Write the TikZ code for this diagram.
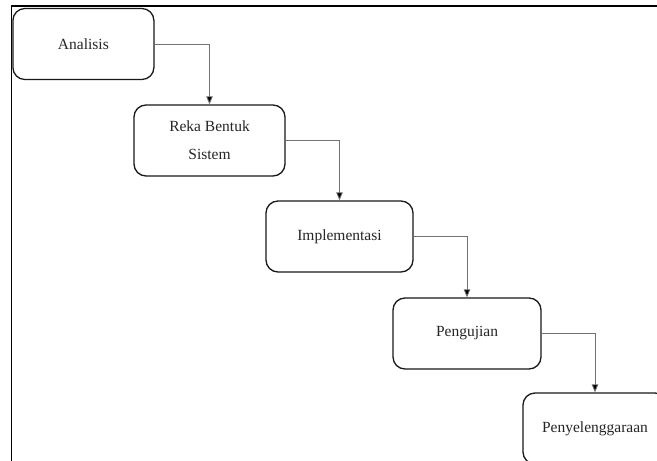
\documentclass[tikz,border=0pt]{standalone}
\usepackage{fontspec}
\setmainfont{Liberation Serif}
\usetikzlibrary{arrows.meta}
\begin{document}
\begin{tikzpicture}[x=1pt,y=1pt,
  stage/.style={draw=black!90, line width=1.3pt, rounded corners=12pt, rectangle,
    minimum height=71pt, inner sep=0pt, align=center, font=\fontsize{15.5}{28}\selectfont, text=black!85},
  flow/.style={draw=black!55, line width=0.8pt, -{Triangle[length=8pt,width=6.5pt,fill=black]}}]
\useasboundingbox (0,0) rectangle (657,-461);
\clip (0,0) rectangle (657,-461);
\fill[white] (0,0) rectangle (657,-461);
\draw[line width=1.5pt, black] (11.5,-461) -- (11.5,-6) -- (657,-6);
\node[stage, minimum width=141pt] (a) at (83.4,-44) {Analisis};
\node[stage, minimum width=151pt] (b) at (209.5,-140.5) {Reka Bentuk\\Sistem};
\node[stage, minimum width=147pt] (c) at (339.5,-236.5) {Implementasi};
\node[stage, minimum width=148pt] (d) at (467,-333.5) {Pengujian};
\node[stage, minimum width=144pt] (e) at (595,-428.5) {Penyelenggaraan};
\draw[flow] (a.east) -| (b.north);
\draw[flow] (b.east) -| (c.north);
\draw[flow] (c.east) -| (d.north);
\draw[flow] (d.east) -| (e.north);
\end{tikzpicture}
\end{document}
